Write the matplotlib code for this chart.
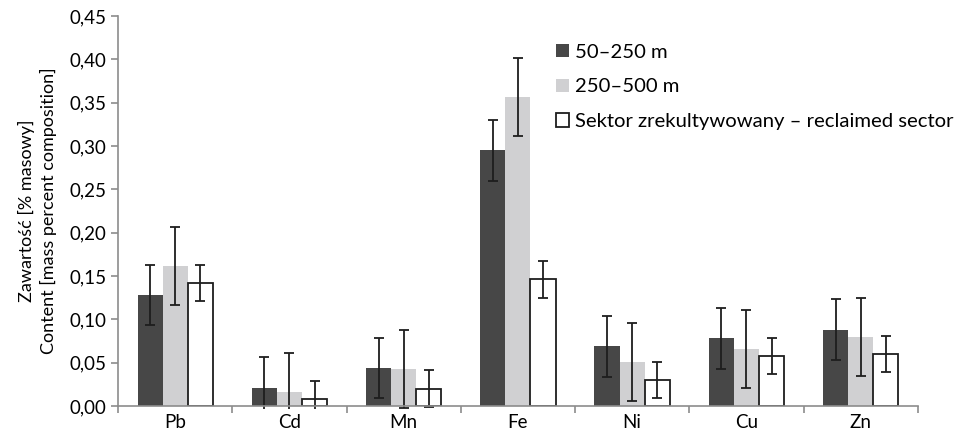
import matplotlib.pyplot as plt
import numpy as np
from matplotlib.ticker import FuncFormatter, FixedLocator
from matplotlib.transforms import Bbox, TransformedBbox

plt.rcParams['font.family'] = ['Lato', 'DejaVu Sans']

elements = ['Pb', 'Cd', 'Mn', 'Fe', 'Ni', 'Cu', 'Zn']
near = [0.128, 0.021, 0.044, 0.295, 0.069, 0.078, 0.088]
far = [0.162, 0.016, 0.043, 0.356, 0.051, 0.066, 0.080]
reclaimed = [0.142, 0.008, 0.020, 0.146, 0.030, 0.058, 0.060]
near_err = [0.035, 0.035, 0.035, 0.035, 0.035, 0.035, 0.035]
far_err = [0.045, 0.045, 0.045, 0.045, 0.045, 0.045, 0.045]
reclaimed_err = [0.021, 0.021, 0.021, 0.021, 0.021, 0.021, 0.021]
labels = ['50\u2013250 m', '250\u2013500 m', 'Sektor zrekultywowany \u2013 reclaimed sector']

fig = plt.figure(figsize=(9.6, 4.33), dpi=100)
ax = fig.add_axes([0.123, 0.0624, 0.833, 0.9006])

x = np.arange(len(elements))
w = 0.22
ekw = dict(ecolor='#1e1e1e', elinewidth=1.3, capsize=3.5, capthick=1.3)
b1 = ax.bar(x - w, near, w, color='#474747', yerr=near_err, error_kw=ekw, label=labels[0])
b2 = ax.bar(x, far, w, color='#d0d0d2', yerr=far_err, error_kw=ekw, label=labels[1])
b3 = ax.bar(x + w, reclaimed, w, color='white', edgecolor='#1e1e1e', linewidth=1.3,
            yerr=reclaimed_err, error_kw=ekw, label=labels[2])

# let the error bars poke a couple of pixels below the axis, like excel does
clip = TransformedBbox(Bbox.from_extents(0, -0.008, 1, 1.05), ax.transAxes)
for b in (b1, b2, b3):
    for art in b.errorbar.lines[1] + b.errorbar.lines[2]:
        art.set_clip_box(clip)

ax.set_xlim(-0.5, len(elements) - 0.5)
ax.set_ylim(0, 0.45)
ax.set_yticks(np.arange(0, 0.451, 0.05))
ax.yaxis.set_major_formatter(FuncFormatter(lambda v, p: f'{v:.2f}'.replace('.', ',')))
ax.set_xticks(x)
ax.set_xticklabels(elements)
ax.xaxis.set_minor_locator(FixedLocator(np.arange(-0.5, len(elements), 1.0)))
ax.tick_params(axis='x', which='major', length=0, labelsize=13.5, pad=6)
ax.tick_params(axis='x', which='minor', length=5, color='#8c8c8c', width=1.2)
ax.tick_params(axis='y', length=5, color='#8c8c8c', width=1.2, labelsize=13.5)

for s in ['top', 'right']:
    ax.spines[s].set_visible(False)
for s in ['left', 'bottom']:
    ax.spines[s].set_color('#8c8c8c')
    ax.spines[s].set_linewidth(1.2)

ax.set_ylabel('Zawartość [% masowy]\nContent [mass percent composition]', fontsize=13,
              labelpad=9, linespacing=1.35)

ax.legend(loc='upper left', bbox_to_anchor=(0.537, 0.95), frameon=False, fontsize=14.6,
          handlelength=0.65, handleheight=0.65, handletextpad=0.3, labelspacing=0.88,
          borderaxespad=0)

fig.savefig('out.png', dpi=100)
